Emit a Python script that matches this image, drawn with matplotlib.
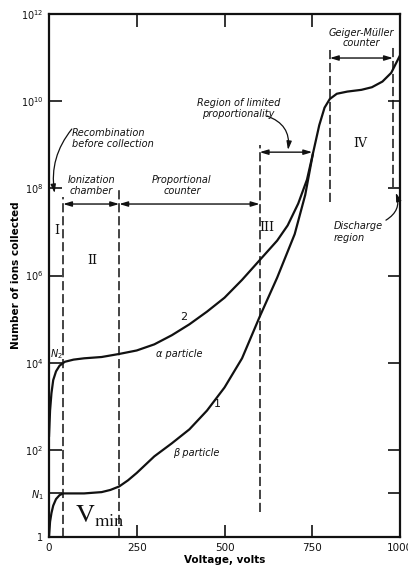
import numpy as np
import matplotlib.pyplot as plt

# ---- curve data (voltage in volts, log10 of ions collected)
alpha_v = [0, 3, 7, 12, 20, 30, 45, 70, 100, 150, 200, 250, 300, 350, 400, 450,
           500, 550, 600, 650, 680, 710, 735, 752, 770, 785, 800, 820, 850, 890,
           920, 950, 975, 1000]
alpha_log = [2.3, 2.9, 3.3, 3.6, 3.8, 3.93, 4.02, 4.07, 4.1, 4.13, 4.2, 4.28,
             4.42, 4.63, 4.88, 5.17, 5.49, 5.9, 6.35, 6.8, 7.15, 7.65, 8.2, 8.8,
             9.45, 9.85, 10.05, 10.17, 10.22, 10.26, 10.32, 10.45, 10.65, 11.05]

beta_v = [0, 3, 7, 12, 20, 30, 40, 100, 150, 175, 200, 225, 250, 275, 300, 350,
          400, 450, 500, 550, 600, 650, 700, 730, 752]
beta_log = [0.0, 0.35, 0.55, 0.72, 0.87, 0.96, 1.0, 1.0, 1.03, 1.08, 1.16, 1.3,
            1.47, 1.66, 1.85, 2.15, 2.47, 2.9, 3.43, 4.1, 5.05, 5.95, 6.95, 7.85, 8.8]

x_ticks = [0, 250, 500, 750, 1000]
y_ticks = [1, 1e1, 1e2, 1e4, 1e6, 1e8, 1e10, 1e12]
y_tick_labels = ['1', r'$\mathit{N}_1$', '$10^2$', '$10^4$', '$10^6$', '$10^8$',
                 '$10^{10}$', '$10^{12}$']

# region boundaries (voltage, bottom/top in log10)
bound_v = [40, 200, 600, 800, 980]
bound_lo = [0.0, 0.0, 0.57, 7.68, 8.03]
bound_hi = [7.8, 8.03, 9.0, 11.24, 11.24]

# region arrows: (from V, to V, height log10)
spans = [(40, 200, 7.64), (200, 600, 7.64), (600, 750, 8.83), (800, 980, 10.99)]

plt.rcParams['mathtext.default'] = 'regular'

fig = plt.figure(figsize=(4.08, 5.74), dpi=100)
ax = fig.add_axes([49/408, 1 - 537/574, 351/408, 523/574])

ink = '#111111'
ax.plot(alpha_v, 10.0 ** np.array(alpha_log), color=ink, lw=1.6,
        solid_joinstyle='round', solid_capstyle='round')
ax.plot(beta_v, 10.0 ** np.array(beta_log), color=ink, lw=1.6,
        solid_joinstyle='round', solid_capstyle='round')

for v, lo, hi in zip(bound_v, bound_lo, bound_hi):
    ax.plot([v, v], [10**lo, 10**hi], color=ink, lw=1.1, linestyle=(0, (6, 2.5)))

for a, b, h in spans:
    ax.annotate('', xy=(b, 10**h), xytext=(a, 10**h),
                arrowprops=dict(arrowstyle='<|-|>,head_length=0.5,head_width=0.15',
                                color=ink, lw=1.0, shrinkA=0, shrinkB=0))

ax.set_yscale('log')
ax.set_xlim(0, 1000)
ax.set_ylim(1, 1e12)
ax.set_xticks(x_ticks)
ax.set_xticklabels([str(t) for t in x_ticks])
ax.set_yticks(y_ticks)
ax.set_yticklabels(y_tick_labels)
ax.minorticks_off()
ax.tick_params(direction='in', length=9, width=1.2, top=True, right=True,
               colors=ink, pad=4)
ax.tick_params(axis='x', labelsize=7.5)
ax.tick_params(axis='y', labelsize=7)
for s in ax.spines.values():
    s.set_linewidth(1.6)
    s.set_color(ink)

ax.set_xlabel('Voltage, volts', fontsize=7.5, fontweight='bold', labelpad=2)
ax.set_ylabel('Number of ions collected', fontsize=7.5, fontweight='bold', labelpad=0)

it = dict(fontsize=7, style='italic', color=ink)
ax.text(65, 10**9.15, 'Recombination\nbefore collection', ha='left', va='center',
        linespacing=1.1, **it)
ax.text(120, 10**8.07, 'Ionization\nchamber', ha='center', va='center', linespacing=1.1, **it)
ax.text(379, 10**8.07, 'Proportional\ncounter', ha='center', va='center', linespacing=1.1, **it)
ax.text(540, 10**9.84, 'Region of limited\nproportionality', ha='center', va='center',
        linespacing=1.1, **it)
ax.text(889, 10**11.45, 'Geiger-Müller\ncounter', ha='center', va='center', linespacing=1.1, **it)
ax.text(810, 10**7.0, 'Discharge\nregion', ha='left', va='center', linespacing=1.2, **it)
ax.text(372, 10**4.2, 'α particle', ha='center', va='center', **it)
ax.text(420, 10**1.93, 'β particle', ha='center', va='center', **it)
ax.text(383, 10**5.05, '2', ha='center', va='center', fontsize=8, color=ink)
ax.text(480, 10**3.05, '1', ha='center', va='center', fontsize=8, color=ink)
ax.text(21, 10**4.2, r'$\mathit{N}_2$', ha='center', va='center', fontsize=7, color=ink)

rn = dict(fontsize=9, family='DejaVu Serif', color=ink, ha='center', va='center')
ax.text(23, 10**7.04, 'I', **rn)
ax.text(122, 10**6.35, 'II', **rn)
ax.text(620, 10**7.09, 'III', **rn)
ax.text(886, 10**9.04, 'IV', **rn)

ax.text(74, 10**0.34, r'$\mathrm{V}_{\mathrm{min}}$', fontsize=19, math_fontfamily='stix',
        ha='left', va='baseline', color=ink)

curve = dict(arrowstyle='-|>,head_length=0.5,head_width=0.15', color=ink, lw=0.9,
             shrinkA=0, shrinkB=0)
ax.annotate('', xy=(16, 10**7.89), xytext=(65, 10**9.36),
            arrowprops=dict(connectionstyle='arc3,rad=0.22', **curve))
ax.annotate('', xy=(681, 10**8.88), xytext=(621, 10**9.66),
            arrowprops=dict(connectionstyle='arc3,rad=-0.4', **curve))
ax.annotate('', xy=(988, 10**7.9), xytext=(960, 10**7.27),
            arrowprops=dict(connectionstyle='arc3,rad=0.4', **curve))

fig.savefig('out.png', dpi=100)
